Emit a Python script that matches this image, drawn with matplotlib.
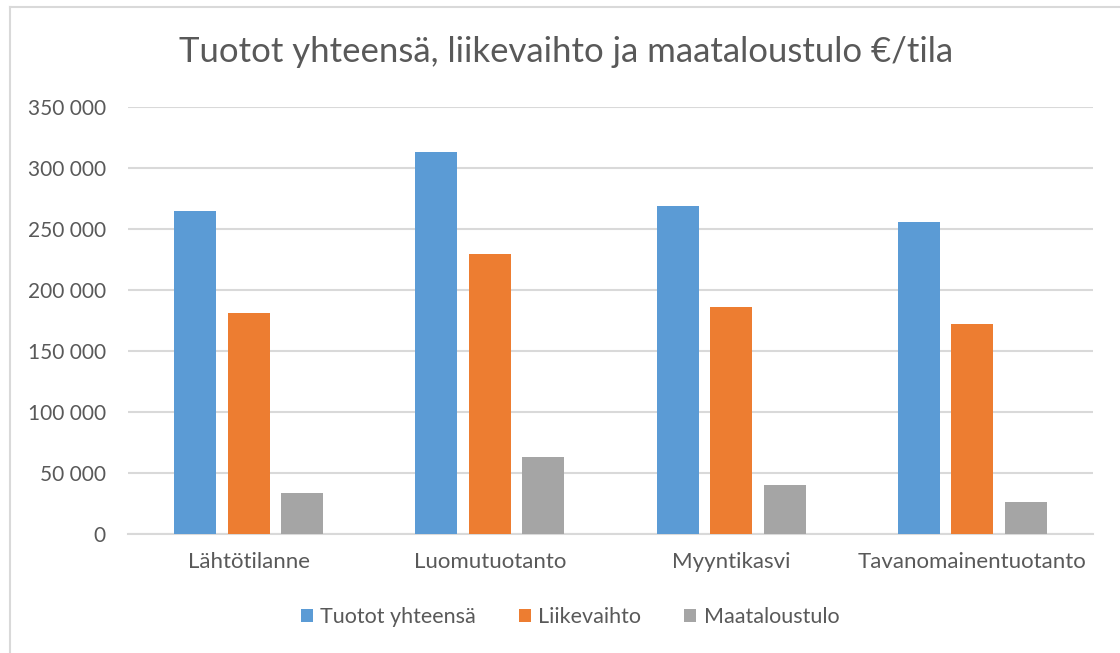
import matplotlib
matplotlib.use("Agg")
import matplotlib.pyplot as plt
import numpy as np
from matplotlib.lines import Line2D
from matplotlib.ticker import FuncFormatter

categories = ["Lähtötilanne", "Luomutuotanto", "Myyntikasvi", "Tavanomainentuotanto"]
series_names = ["Tuotot yhteensä", "Liikevaihto", "Maataloustulo"]
tuotot = [265000, 313500, 268700, 256000]
liikevaihto = [181000, 229500, 185700, 172000]
maataloustulo = [33400, 63000, 40500, 26000]
colors = ["#5B9BD5", "#ED7D31", "#A5A5A5"]
y_ticks = [0, 50000, 100000, 150000, 200000, 250000, 300000, 350000]

plt.rcParams['font.family'] = ['Lato', 'DejaVu Sans']
text_color = "#595959"
grid_color = "#D9D9D9"

fig = plt.figure(figsize=(11.2, 6.53), dpi=100)
ax = fig.add_axes([128/1120, 1-534/653, (1093-128)/1120, (534-107)/653])

x = np.arange(len(categories))
bw = 0.174
step = 0.222
for i, (vals, name) in enumerate(zip([tuotot, liikevaihto, maataloustulo], series_names)):
    ax.bar(x + (i-1)*step, vals, width=bw, color=colors[i], label=name, zorder=3)

ax.set_xlim(-0.5, len(categories)-0.5)
ax.set_ylim(0, 350000)
ax.set_yticks(y_ticks)
ax.yaxis.set_major_formatter(FuncFormatter(lambda v, p: f"{int(v):,}".replace(",", " ")))
ax.set_xticks(x)
ax.set_xticklabels(categories)
ax.grid(axis='y', color=grid_color, linewidth=1.5, zorder=0)
for s in ['top', 'right', 'left']:
    ax.spines[s].set_visible(False)
ax.spines['bottom'].set_color(grid_color)
ax.spines['bottom'].set_linewidth(1.5)
ax.tick_params(axis='both', length=0, colors=text_color)
ax.tick_params(axis='y', pad=16, labelsize=15)
ax.tick_params(axis='x', pad=13, labelsize=16)

fig.text(0.505, 1-52/653, "Tuotot yhteensä, liikevaihto ja maataloustulo €/tila",
         ha='center', va='center', fontsize=25, color=text_color)

leg = fig.legend(loc='center', bbox_to_anchor=(570/1120, 1-617/653), ncol=3, frameon=False,
                 fontsize=15.5, handlelength=0.55, handleheight=0.55, handletextpad=0.35,
                 columnspacing=2.0)
for t in leg.get_texts():
    t.set_color(text_color)

fig.add_artist(Line2D([10/1120, 1], [1-7/653, 1-7/653], color=grid_color, linewidth=1.5))
fig.add_artist(Line2D([10/1120, 10/1120], [0, 1-7/653], color=grid_color, linewidth=1.5))

fig.savefig("out.png", dpi=100, facecolor='white')
